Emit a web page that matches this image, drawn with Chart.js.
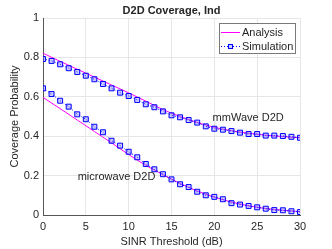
<!DOCTYPE html>
<html>
<head>
<meta charset="utf-8">
<script src="https://cdn.jsdelivr.net/npm/chart.js@4/dist/chart.umd.min.js"></script>
<style>
  html, body { margin: 0; padding: 0; background: #fff; }
  #wrap { width: 332px; height: 249px; }
</style>
</head>
<body>
<div id="wrap"><canvas id="grafico" width="332" height="249"></canvas></div>
<script>
// umbrales SINR (dB)
const umbralesSim = [0,1,2,3,4,5,6,7,8,9,10,11,12,13,14,15,16,17,18,19,20,21,22,23,24,25,26,27,28,29,30];
const umbralesAna = [0,2,4,6,8,10,12,14,16,18,20,22,24,26,28,30];

// mmWave D2D
const mmwaveSim = [0.792,0.782,0.765,0.745,0.726,0.707,0.689,0.665,0.643,0.621,0.604,0.584,0.562,0.547,0.526,0.506,0.496,0.482,0.469,0.450,0.438,0.433,0.426,0.418,0.411,0.411,0.403,0.403,0.401,0.397,0.392];
const mmwaveAna = [0.821,0.780,0.740,0.700,0.660,0.620,0.578,0.535,0.500,0.470,0.445,0.428,0.415,0.405,0.398,0.392];

// microwave D2D
const microSim = [0.643,0.614,0.580,0.550,0.511,0.486,0.448,0.420,0.377,0.352,0.321,0.293,0.259,0.232,0.207,0.181,0.156,0.142,0.118,0.100,0.092,0.080,0.060,0.053,0.046,0.039,0.032,0.025,0.024,0.019,0.015];
const microAna = [0.597,0.540,0.482,0.424,0.366,0.307,0.252,0.205,0.160,0.122,0.091,0.066,0.047,0.033,0.024,0.017];

const ticksX = [0,5,10,15,20,25,30];
const ticksY = [0,0.2,0.4,0.6,0.8,1];

const colorTexto = '#262626';
const fuente = '"Liberation Sans", Arial, sans-serif';
const rellenoMarca = 'rgba(110,110,255,0.35)';

function puntos(xs, ys) {
  return xs.map((x, i) => ({ x: x, y: ys[i] }));
}

function serieAnalisis(ys) {
  return {
    label: 'Analysis',
    data: puntos(umbralesAna, ys),
    borderColor: '#ff00ff',
    borderWidth: 1,
    pointRadius: 0,
    cubicInterpolationMode: 'monotone',
    order: 2
  };
}

function serieSimulacion(ys) {
  return {
    label: 'Simulation',
    data: puntos(umbralesSim, ys),
    borderColor: '#0000ff',
    borderWidth: 1,
    borderDash: [1, 2],
    pointStyle: 'rect',
    pointRadius: 3.5,
    pointBorderWidth: 1,
    pointBorderColor: '#0000ff',
    pointBackgroundColor: rellenoMarca,
    order: 1
  };
}

// titulo, leyenda y etiquetas
const extras = {
  id: 'extras',
  afterDraw(chart) {
    const ctx = chart.ctx;
    const area = chart.chartArea;
    const sx = chart.scales.x;
    const sy = chart.scales.y;
    ctx.save();

    ctx.fillStyle = colorTexto;
    ctx.font = 'bold 11px ' + fuente;
    ctx.textAlign = 'center';
    ctx.textBaseline = 'middle';
    ctx.fillText('D2D Coverage, Ind', (area.left + area.right) / 2, 11);

    ctx.font = '11px ' + fuente;
    ctx.textAlign = 'left';
    ctx.fillText('mmWave D2D', sx.getPixelForValue(19.8), sy.getPixelForValue(0.492));
    ctx.fillText('microwave D2D', sx.getPixelForValue(4.05), sy.getPixelForValue(0.191));

    // leyenda
    const lx = area.right - 81, ly = area.top + 5;
    ctx.fillStyle = '#fff';
    ctx.fillRect(lx, ly, 77, 31);
    ctx.strokeStyle = '#7a7a7a';
    ctx.lineWidth = 1;
    ctx.strokeRect(lx + 0.5, ly + 0.5, 76, 30);

    ctx.strokeStyle = '#ff00ff';
    ctx.beginPath();
    ctx.moveTo(lx + 2, ly + 9.5);
    ctx.lineTo(lx + 21, ly + 9.5);
    ctx.stroke();

    ctx.strokeStyle = '#0000ff';
    ctx.setLineDash([1, 2]);
    ctx.beginPath();
    ctx.moveTo(lx + 2, ly + 23.5);
    ctx.lineTo(lx + 21, ly + 23.5);
    ctx.stroke();
    ctx.setLineDash([]);
    ctx.fillStyle = '#fff';
    ctx.fillRect(lx + 9, ly + 21, 5, 5);
    ctx.fillStyle = rellenoMarca;
    ctx.fillRect(lx + 9, ly + 21, 5, 5);
    ctx.strokeRect(lx + 9.5, ly + 21.5, 4, 4);

    ctx.fillStyle = colorTexto;
    ctx.fillText('Analysis', lx + 23, ly + 9.5);
    ctx.fillText('Simulation', lx + 23, ly + 23.5);
    ctx.restore();
  }
};

new Chart(document.getElementById('grafico'), {
  type: 'line',
  data: {
    datasets: [
      serieAnalisis(mmwaveAna),
      serieSimulacion(mmwaveSim),
      serieAnalisis(microAna),
      serieSimulacion(microSim)
    ]
  },
  options: {
    responsive: false,
    animation: false,
    layout: { padding: { top: 18, right: 32, left: 0, bottom: 0 } },
    plugins: {
      legend: { display: false },
      tooltip: { enabled: false }
    },
    scales: {
      x: {
        type: 'linear',
        min: 0,
        max: 30,
        afterFit: s => { s.height = 34; },
        afterBuildTicks: s => { s.ticks = ticksX.map(v => ({ value: v })); },
        grid: { color: '#e6e6e6', drawTicks: false },
        border: { color: '#555', width: 1 },
        ticks: { color: colorTexto, font: { family: fuente, size: 11 }, padding: 5, maxRotation: 0, callback: v => String(v) },
        title: { display: true, text: 'SINR Threshold (dB)', color: colorTexto, font: { family: fuente, size: 11 }, padding: { top: 0, bottom: 0 } }
      },
      y: {
        type: 'linear',
        min: 0,
        max: 1,
        afterFit: s => { s.width = 43; },
        afterBuildTicks: s => { s.ticks = ticksY.map(v => ({ value: v })); },
        grid: { color: '#e6e6e6', drawTicks: false },
        border: { color: '#555', width: 1 },
        ticks: { color: colorTexto, font: { family: fuente, size: 11 }, padding: 4, callback: v => String(Math.round(v * 10) / 10) },
        title: { display: true, text: 'Coverage Probability', color: colorTexto, font: { family: fuente, size: 11 }, padding: { top: 8, bottom: 0 } }
      }
    }
  },
  plugins: [extras]
});
</script>
</body>
</html>
